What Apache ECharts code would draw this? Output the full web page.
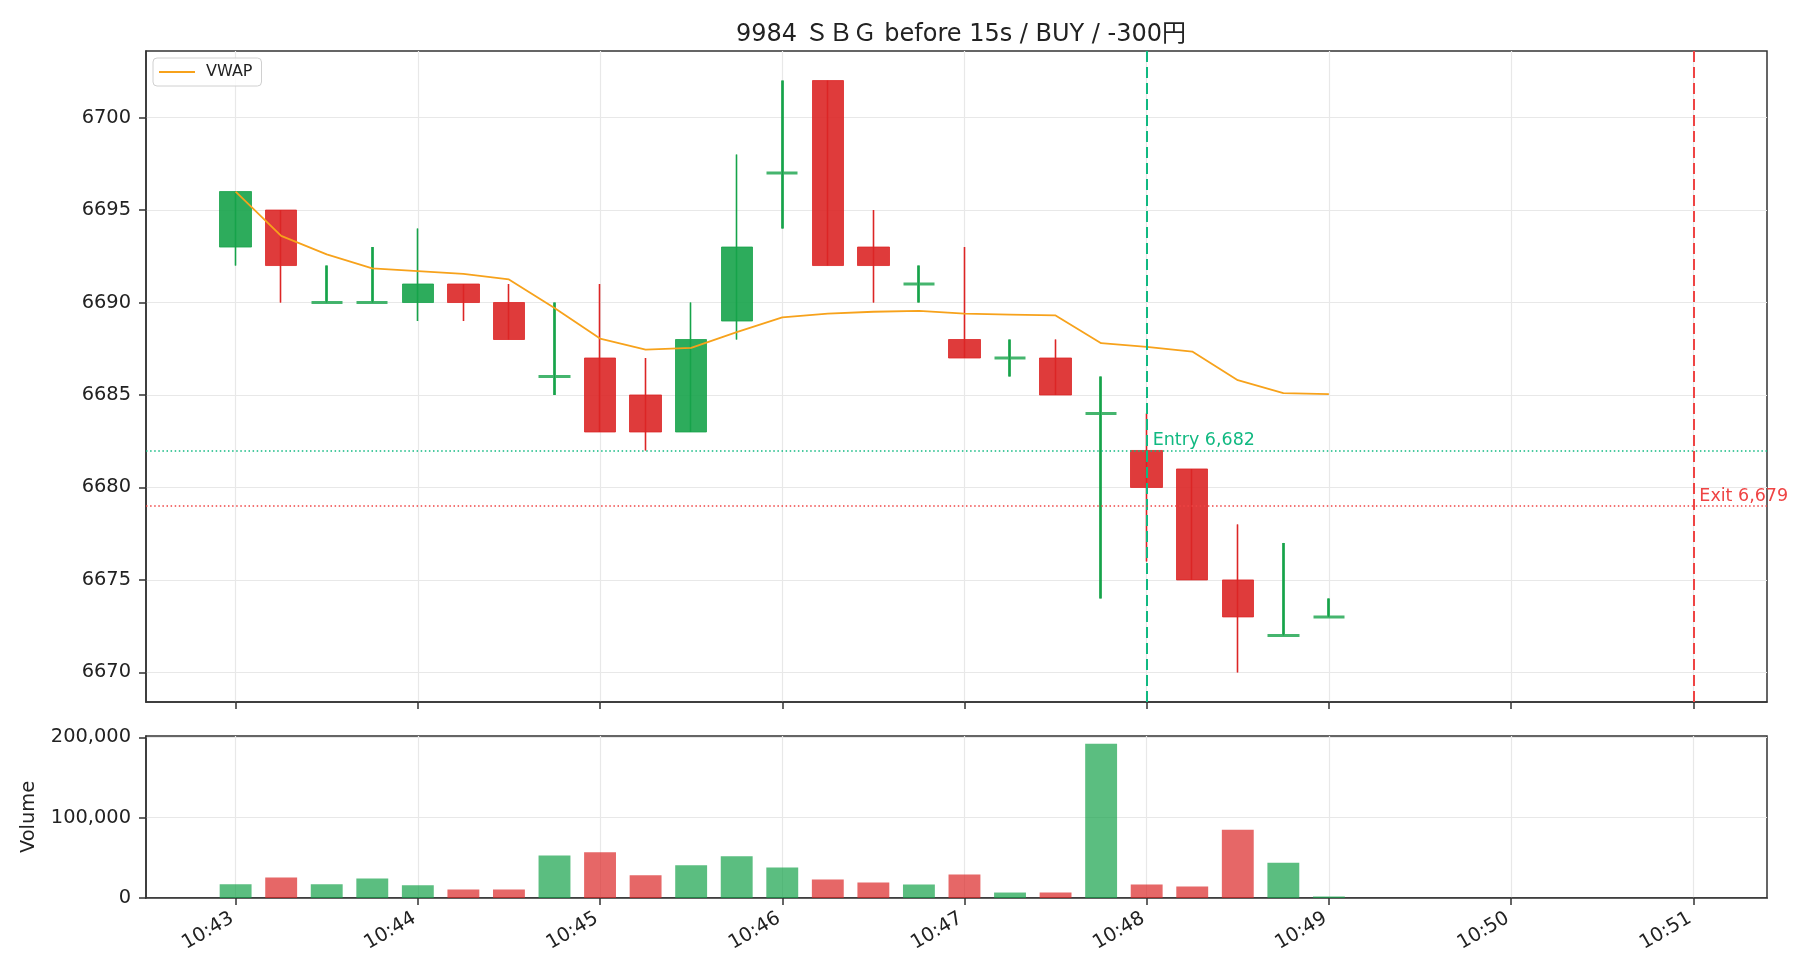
<!DOCTYPE html>
<html>
<head>
<meta charset="utf-8">
<title>9984 SBG before 15s</title>
<script src="https://cdn.jsdelivr.net/npm/echarts@6/dist/echarts.min.js"></script>
<style>
  html, body { margin: 0; padding: 0; background: #fff; }
  #chart { width: 1820px; height: 980px; }
</style>
</head>
<body>
<div id="chart"></div>
<script>
// 15s candles
const times = [
  "10:43:00", "10:43:15", "10:43:30", "10:43:45", "10:44:00", "10:44:15", "10:44:30", "10:44:45",
  "10:45:00", "10:45:15", "10:45:30", "10:45:45", "10:46:00", "10:46:15", "10:46:30", "10:46:45",
  "10:47:00", "10:47:15", "10:47:30", "10:47:45", "10:48:00", "10:48:15", "10:48:30", "10:48:45",
  "10:49:00",
];
const opens = [6693, 6695, 6690, 6690, 6690, 6691, 6690, 6686, 6687, 6685, 6683, 6689, 6697, 6702, 6693, 6691, 6688, 6687, 6687, 6684, 6682, 6681, 6675, 6672, 6673];
const closes = [6696, 6692, 6690, 6690, 6691, 6690, 6688, 6686, 6683, 6683, 6688, 6693, 6697, 6692, 6692, 6691, 6687, 6687, 6685, 6684, 6680, 6675, 6673, 6672, 6673];
const lows = [6692, 6690, 6690, 6690, 6689, 6689, 6688, 6685, 6683, 6682, 6683, 6688, 6694, 6692, 6690, 6690, 6687, 6686, 6685, 6674, 6676, 6675, 6670, 6672, 6673];
const highs = [6696, 6695, 6692, 6693, 6694, 6691, 6691, 6690, 6691, 6687, 6690, 6698, 6702, 6702, 6695, 6692, 6693, 6688, 6688, 6686, 6684, 6681, 6678, 6677, 6674];
const volumes = [17000, 25500, 17200, 24300, 16000, 10700, 10700, 53000, 57000, 28300, 40800, 52000, 37900, 23000, 19200, 16900, 29100, 6800, 6800, 192000, 16900, 14300, 84800, 44000, 1800];
const vwap = [6696.0, 6693.6, 6692.6, 6691.85, 6691.7, 6691.55, 6691.25, 6689.7, 6688.05, 6687.45, 6687.55, 6688.4, 6689.2, 6689.4, 6689.5, 6689.55, 6689.4, 6689.35, 6689.3, 6687.8, 6687.6, 6687.35, 6685.8, 6685.1, 6685.05];

const entryTime = "10:48:00";
const entryPrice = 6682;
const exitTime = "10:51:00";
const exitPrice = 6679;

const timeTicks = ["10:43", "10:44", "10:45", "10:46", "10:47", "10:48", "10:49", "10:50", "10:51"];
const priceTicks = [6670, 6675, 6680, 6685, 6690, 6695, 6700];
const volumeTicks = [0, 100000, 200000];

const titleText = "9984 ＳＢＧ before 15s / BUY / -300円";

const UP = "#16a34a";
const DOWN = "#dc2626";
const ENTRY = "#10b981";
const EXIT = "#ef4444";
const VWAP_COLOR = "#f7a21b";
const FONT = "DejaVu Sans, Noto Sans CJK JP, sans-serif";

const toSec = (s) => {
  const p = s.split(":").map(Number);
  return p[0] * 3600 + p[1] * 60 + (p[2] || 0);
};
const fmtTime = (v) => {
  const h = Math.floor(v / 3600);
  const m = Math.round((v % 3600) / 60);
  return h + ":" + String(m).padStart(2, "0");
};
const fade = (hex, a) => {
  const n = parseInt(hex.slice(1), 16);
  return "rgba(" + (n >> 16) + "," + ((n >> 8) & 255) + "," + (n & 255) + "," + a + ")";
};

const xs = times.map(toSec);
const entryX = toSec(entryTime);
const exitX = toSec(exitTime);

// axis limits like matplotlib: data extent + 5% margin
const halfBar = 0.7 * 15 / 2;
const xLo = xs[0] - halfBar;
const xHi = exitX;
const xPad = 0.05 * (xHi - xLo);
const xMin = xLo - xPad;
const xMax = xHi + xPad;
const pLo = Math.min(...lows);
const pHi = Math.max(...highs);
const pPad = 0.05 * (pHi - pLo);
const volMax = 1.05 * Math.max(...volumes);

const gridLeft = 146;
const gridRight = 53;
const barW = (0.7 * 15 * (1820 - gridLeft - gridRight)) / (xMax - xMin);

const isUp = (i) => closes[i] >= opens[i];

const bodyData = xs.map((x, i) => {
  const c = isUp(i) ? UP : DOWN;
  return {
    value: [x, opens[i], closes[i], lows[i], highs[i]],
    itemStyle: {
      color: fade(c, 0.9),
      color0: fade(c, 0.9),
      borderColor: fade(c, 0.8),
      borderColor0: fade(c, 0.8),
      borderColorDoji: fade(c, 0.9),
      borderWidth: opens[i] === closes[i] ? 3 : 1,
    },
  };
});
const wickData = xs.map((x, i) => {
  const c = isUp(i) ? UP : DOWN;
  return {
    value: [x, opens[i], closes[i], lows[i], highs[i]],
    itemStyle: { color: c, color0: c, borderColor: c, borderColor0: c, borderColorDoji: c },
  };
});
const volData = xs.map((x, i) => ({
  value: [x, volumes[i]],
  itemStyle: { color: fade(isUp(i) ? UP : DOWN, 0.7) },
}));

const axisColor = "#333";
const gridLineColor = "#e8e8e8";
const labelStyle = { color: "#222", fontSize: 19.4, fontFamily: FONT };

const chart = echarts.init(document.getElementById("chart"), null, { renderer: "canvas" });

const option = {
  animation: false,
  backgroundColor: "#fff",
  textStyle: { fontFamily: FONT },
  title: {
    text: titleText,
    left: 956,
    top: 18,
    textAlign: "center",
    textStyle: { fontSize: 24, fontWeight: "normal", color: "#222", fontFamily: FONT },
  },
  legend: {
    data: ["VWAP"],
    left: 153,
    top: 58,
    padding: [6, 9, 6, 6],
    icon: "rect",
    itemWidth: 36,
    itemHeight: 2,
    backgroundColor: "rgba(255,255,255,0.8)",
    borderColor: "#d0d0d0",
    borderWidth: 1,
    borderRadius: 4,
    textStyle: { fontSize: 16, color: "#222", fontFamily: FONT, padding: [0, 0, 0, 6] },
  },
  grid: [
    { left: gridLeft, right: gridRight, top: 51, height: 651, show: true, borderColor: axisColor, borderWidth: 1.5, backgroundColor: "transparent" },
    { left: gridLeft, right: gridRight, top: 736, height: 162, show: true, borderColor: axisColor, borderWidth: 1.5, backgroundColor: "transparent" },
  ],
  xAxis: [0, 1].map((g) => ({
    type: "value",
    gridIndex: g,
    min: xMin,
    max: xMax,
    axisLine: { show: true, onZero: false, lineStyle: { color: axisColor, width: 1.5 } },
    axisTick: { show: true, customValues: timeTicks.map(toSec), length: 7, lineStyle: { color: axisColor, width: 1.5 } },
    axisLabel: {
      show: g === 1,
      customValues: timeTicks.map(toSec),
      formatter: fmtTime,
      rotate: 30,
      margin: 17,
      padding: [0, 4, 0, 0],
      ...labelStyle,
    },
    splitLine: { show: true, lineStyle: { color: gridLineColor, width: 1.2 } },
  })),
  yAxis: [
    {
      type: "value",
      gridIndex: 0,
      min: pLo - pPad,
      max: pHi + pPad,
      axisLine: { show: true, lineStyle: { color: axisColor, width: 1.5 } },
      axisTick: { show: true, customValues: priceTicks, length: 7, lineStyle: { color: axisColor, width: 1.5 } },
      axisLabel: { customValues: priceTicks, margin: 15, formatter: (v) => String(v), ...labelStyle },
      splitLine: { show: true, lineStyle: { color: gridLineColor, width: 1.2 } },
    },
    {
      type: "value",
      gridIndex: 1,
      min: 0,
      max: volMax,
      name: "Volume",
      nameLocation: "middle",
      nameGap: 107,
      nameTextStyle: { ...labelStyle },
      axisLine: { show: true, lineStyle: { color: axisColor, width: 1.5 } },
      axisTick: { show: true, customValues: volumeTicks, length: 7, lineStyle: { color: axisColor, width: 1.5 } },
      axisLabel: {
        customValues: volumeTicks,
        margin: 15,
        formatter: (v) => v.toLocaleString("en-US"),
        ...labelStyle,
      },
      splitLine: { show: true, lineStyle: { color: gridLineColor, width: 1.2 } },
    },
  ],
  series: [
    {
      name: "wick",
      type: "candlestick",
      xAxisIndex: 0,
      yAxisIndex: 0,
      barWidth: 1,
      encode: { x: 0, y: [1, 2, 3, 4] },
      itemStyle: { borderWidth: 1.6 },
      data: wickData,
    },
    {
      name: "body",
      type: "candlestick",
      xAxisIndex: 0,
      yAxisIndex: 0,
      barWidth: barW,
      encode: { x: 0, y: [1, 2, 3, 4] },
      data: bodyData,
    },
    {
      name: "VWAP",
      type: "line",
      xAxisIndex: 0,
      yAxisIndex: 0,
      data: xs.map((x, i) => [x, vwap[i]]),
      symbol: "none",
      color: VWAP_COLOR,
      lineStyle: { color: VWAP_COLOR, width: 1.8 },
      markLine: {
        silent: true,
        symbol: "none",
        label: { show: false },
        data: [
          { xAxis: entryX, lineStyle: { color: ENTRY, type: [11, 5], width: 2 } },
          { xAxis: exitX, lineStyle: { color: EXIT, type: [11, 5], width: 2 } },
          { yAxis: entryPrice, lineStyle: { color: ENTRY, type: [1.5, 2.6], width: 1.5 } },
          { yAxis: exitPrice, lineStyle: { color: EXIT, type: [1.5, 2.6], width: 1.5 } },
        ],
      },
      markPoint: {
        silent: true,
        symbol: "circle",
        symbolSize: 0,
        data: [
          {
            coord: [entryX, entryPrice],
            label: {
              show: true,
              formatter: "Entry " + entryPrice.toLocaleString("en-US"),
              position: "right",
              distance: 6,
              offset: [0, -10],
              color: ENTRY,
              fontSize: 17.5,
              fontFamily: FONT,
            },
          },
          {
            coord: [exitX, exitPrice],
            label: {
              show: true,
              formatter: "Exit " + exitPrice.toLocaleString("en-US"),
              position: "right",
              distance: 6,
              offset: [0, -10],
              color: EXIT,
              fontSize: 17.5,
              fontFamily: FONT,
            },
          },
        ],
      },
    },
    {
      name: "Volume",
      type: "bar",
      xAxisIndex: 1,
      yAxisIndex: 1,
      barWidth: barW,
      data: volData,
    },
  ],
};

chart.setOption(option);
</script>
</body>
</html>
